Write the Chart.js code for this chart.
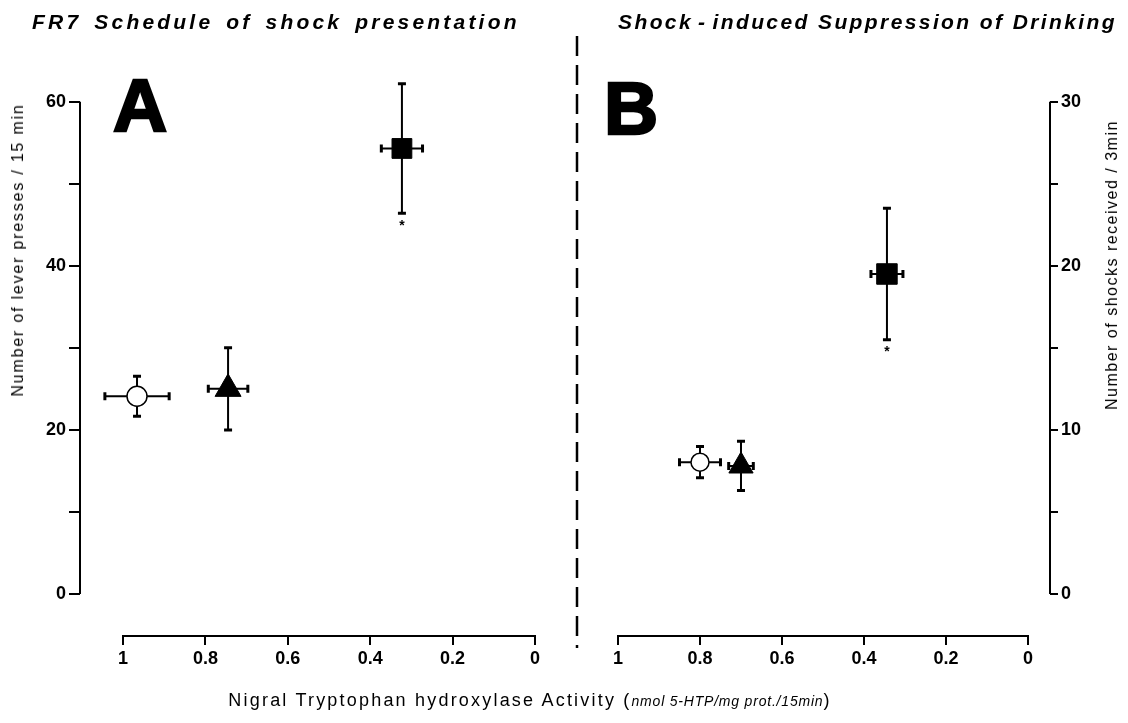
<!DOCTYPE html>
<html>
<head>
<meta charset="utf-8">
<script src="https://cdn.jsdelivr.net/npm/chart.js@4.4.1/dist/chart.umd.min.js"></script>
<style>
  html, body { margin: 0; padding: 0; background: #fff; }
  #page { position: relative; width: 1128px; height: 723px; overflow: hidden;
          font-family: "Liberation Sans", Arial, sans-serif; color: #000; }
  canvas { position: absolute; top: 0; }
  #chartA { left: 0; }
  #chartB { left: 578px; }
  .title { position: absolute; top: 11px; font-size: 21px; line-height: 21px;
           font-weight: bold; font-style: italic; white-space: nowrap; }
  .panel { position: absolute; font-size: 75px; line-height: 75px; font-weight: bold;
           -webkit-text-stroke: 2.5px #000; }
  .ytitle { position: absolute; font-size: 16px; white-space: nowrap;
            transform: translate(-50%, -50%) rotate(-90deg); }
  #xtitle { position: absolute; left: 530px; top: 700px; transform: translate(-50%, -50%);
            font-size: 18px; letter-spacing: 2.2px; white-space: nowrap; }
  #xtitle i { font-size: 14px; letter-spacing: 0.8px; }
</style>
</head>
<body>
<div id="page">
  <canvas id="chartA" width="578" height="723"></canvas>
  <canvas id="chartB" width="550" height="723"></canvas>

  <div class="title" style="left:32px; letter-spacing:3.2px; word-spacing:4px;">FR7 Schedule of shock presentation</div>
  <div class="title" style="left:618px; letter-spacing:2.4px;">Shock<span style="margin:0 5px">-</span>induced Suppression of Drinking</div>

  <div class="panel" style="left:113px; top:68px;">A</div>
  <div class="panel" style="left:604px; top:71px;">B</div>

  <div class="ytitle" style="left:18px; top:250px; letter-spacing:1.8px;">Number of lever presses / 15 min</div>
  <div class="ytitle" style="left:1112px; top:265px; letter-spacing:1.5px;">Number of shocks received / 3min</div>

  <div id="xtitle">Nigral Tryptophan hydroxylase Activity (<i>nmol 5-HTP/mg prot./15min</i>)</div>

  <svg style="position:absolute; left:569px; top:0;" width="16" height="723">
    <line x1="8" y1="36" x2="8" y2="648" stroke="#000" stroke-width="2.5" stroke-dasharray="20 9"/>
  </svg>
</div>

<script>
// groups: open circle, filled triangle, filled square
const groupStyles = ['circle', 'triangle', 'rect'];

// panel A: FR7 schedule
const activityA = [0.966, 0.745, 0.323];
const activityErrA = [0.078, 0.048, 0.05];
const leverPresses = [24.1, 25.0, 54.3];
const leverPressesErr = [2.45, 5.0, 7.9];

// panel B: shock-induced suppression of drinking
const activityB = [0.80, 0.70, 0.344];
const activityErrB = [0.05, 0.03, 0.039];
const shocksReceived = [8.03, 7.8, 19.5];
const shocksReceivedErr = [0.95, 1.5, 4.0];

const significant = [false, false, true];

const xTicks = [1, 0.8, 0.6, 0.4, 0.2, 0];
const yTicksA = [0, 10, 20, 30, 40, 50, 60];
const yLabelsA = [0, 20, 40, 60];
const yTicksB = [0, 5, 10, 15, 20, 25, 30];
const yLabelsB = [0, 10, 20, 30];

const tickFont = { family: "'Liberation Sans', Arial, sans-serif", size: 18, weight: 'bold' };

// axis lines drawn detached, like the original figure
const axisLines = {
  id: 'axisLines',
  afterDraw(chart, args, opts) {
    const { ctx, chartArea, scales: { x, y } } = chart;
    const ax = opts.side === 'right' ? chartArea.right : chartArea.left;
    ctx.save();
    ctx.strokeStyle = '#000';
    ctx.lineWidth = 2;
    ctx.beginPath();
    ctx.moveTo(ax, y.getPixelForValue(opts.yTop));
    ctx.lineTo(ax, y.getPixelForValue(0));
    ctx.moveTo(x.getPixelForValue(1), chartArea.bottom + 1);
    ctx.lineTo(x.getPixelForValue(0), chartArea.bottom + 1);
    ctx.stroke();
    ctx.restore();
  }
};

const errorBars = {
  id: 'errorBars',
  beforeDatasetsDraw(chart) {
    const { ctx, scales: { x, y } } = chart;
    ctx.save();
    ctx.strokeStyle = '#000';
    ctx.fillStyle = '#000';
    chart.data.datasets.forEach(ds => ds.data.forEach(p => {
      const px = x.getPixelForValue(p.x), py = y.getPixelForValue(p.y);
      const xl = x.getPixelForValue(p.x + p.xErr), xr = x.getPixelForValue(p.x - p.xErr);
      const yt = y.getPixelForValue(p.y + p.yErr), yb = y.getPixelForValue(p.y - p.yErr);
      ctx.lineWidth = 2;
      ctx.beginPath();
      ctx.moveTo(xl, py); ctx.lineTo(xr, py);
      ctx.moveTo(px, yt); ctx.lineTo(px, yb);
      ctx.stroke();
      ctx.lineWidth = 3;
      ctx.beginPath();
      ctx.moveTo(xl, py - 4); ctx.lineTo(xl, py + 4);
      ctx.moveTo(xr, py - 4); ctx.lineTo(xr, py + 4);
      ctx.moveTo(px - 4, yt); ctx.lineTo(px + 4, yt);
      ctx.moveTo(px - 4, yb); ctx.lineTo(px + 4, yb);
      ctx.stroke();
      if (p.sig) {
        ctx.font = "bold 14px 'Liberation Sans', Arial, sans-serif";
        ctx.textAlign = 'center';
        ctx.textBaseline = 'top';
        ctx.fillText('*', px, yb + 6);
      }
    }));
    ctx.restore();
  }
};

function makeDatasets(xs, xErr, ys, yErr, radii) {
  return groupStyles.map((style, i) => ({
    data: [{ x: xs[i], y: ys[i], xErr: xErr[i], yErr: yErr[i], sig: significant[i] }],
    pointStyle: style,
    pointRadius: radii[i],
    pointBackgroundColor: style === 'circle' ? '#fff' : '#000',
    pointBorderColor: '#000',
    pointBorderWidth: style === 'circle' ? 1.5 : 1
  }));
}

function xScale(min, max) {
  return {
    type: 'linear', reverse: true, min: min, max: max,
    afterBuildTicks: s => { s.ticks = xTicks.map(v => ({ value: v })); },
    afterFit: s => { s.height = 88; },
    ticks: { font: tickFont, color: '#000', padding: 3, maxRotation: 0, autoSkip: false,
             callback: v => +v.toFixed(1) },
    grid: { drawOnChartArea: false, tickLength: 10, color: '#000', lineWidth: 2 },
    border: { display: false }
  };
}

function yScale(min, max, ticks, labels, position, width, tickLength) {
  return {
    type: 'linear', position: position, min: min, max: max,
    afterBuildTicks: s => { s.ticks = ticks.map(v => ({ value: v })); },
    afterFit: s => { s.width = width; },
    ticks: { font: tickFont, color: '#000', padding: 3, autoSkip: false,
             callback: v => labels.includes(v) ? v : '' },
    grid: { drawOnChartArea: false, tickLength: tickLength, color: '#000', lineWidth: 2 },
    border: { display: false }
  };
}

new Chart(document.getElementById('chartA'), {
  type: 'scatter',
  data: { datasets: makeDatasets(activityA, activityErrA, leverPresses, leverPressesErr, [10, 15, 14]) },
  options: {
    responsive: false, animation: false,
    layout: { padding: { top: 101.7, right: 43, left: 0, bottom: 0 } },
    plugins: { legend: { display: false }, tooltip: { enabled: false },
               axisLines: { side: 'left', yTop: 60 } },
    scales: {
      x: xScale(0, 1.1044),
      y: yScale(-5, 60, yTicksA, yLabelsA, 'left', 80, 11)
    }
  },
  plugins: [axisLines, errorBars]
});

new Chart(document.getElementById('chartB'), {
  type: 'scatter',
  data: { datasets: makeDatasets(activityB, activityErrB, shocksReceived, shocksReceivedErr, [9, 14, 14.5]) },
  options: {
    responsive: false, animation: false,
    layout: { padding: { top: 101.7, right: 0, left: 40, bottom: 0 } },
    plugins: { legend: { display: false }, tooltip: { enabled: false },
               axisLines: { side: 'right', yTop: 30 } },
    scales: {
      x: xScale(-0.0537, 1),
      y: yScale(-2.5, 30, yTicksB, yLabelsB, 'right', 78, 8)
    }
  },
  plugins: [axisLines, errorBars]
});
</script>
</body>
</html>
